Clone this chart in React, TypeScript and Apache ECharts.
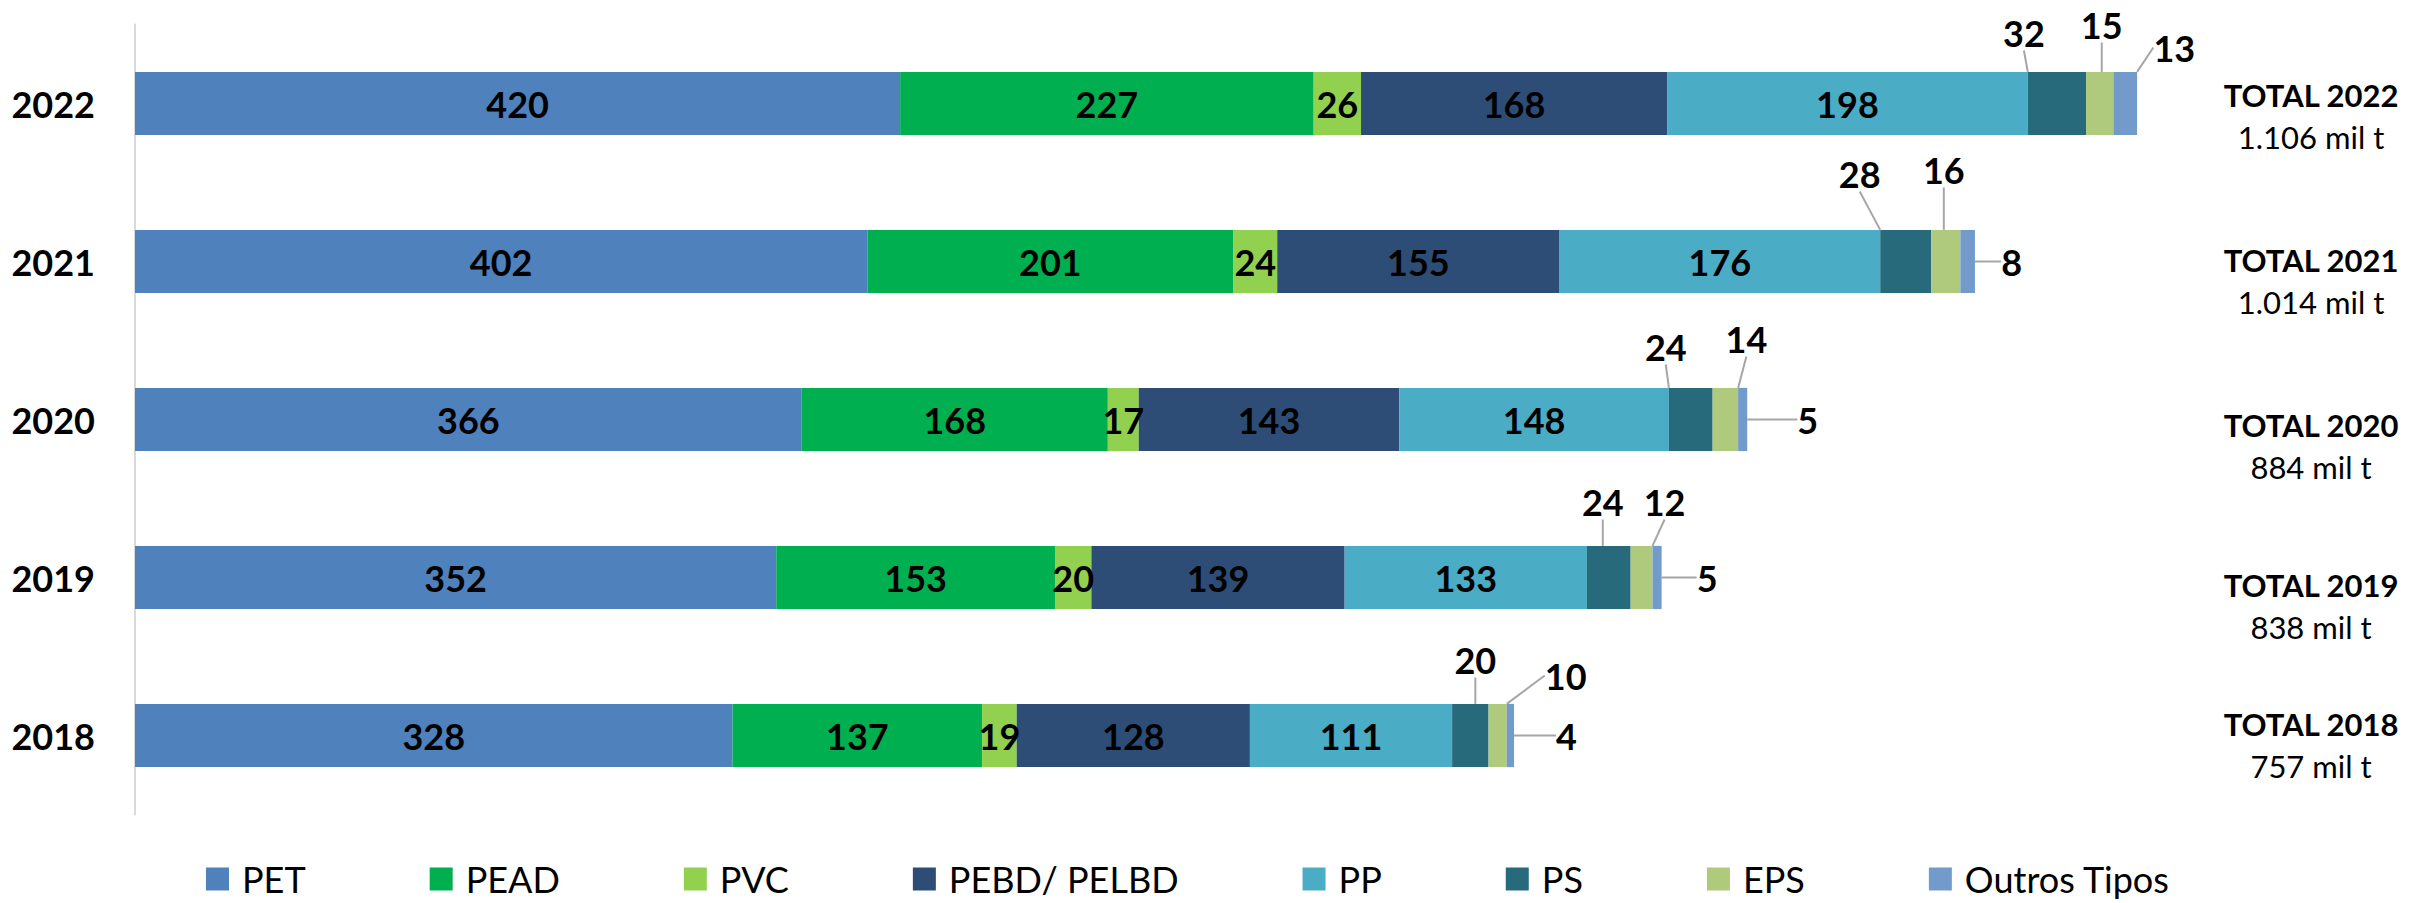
import React, { useEffect, useRef } from 'react';
import * as echarts from 'echarts';

// ---- data ----
const YEARS = ['2022', '2021', '2020', '2019', '2018'];
const PET = [420, 402, 366, 352, 328];
const PEAD = [227, 201, 168, 153, 137];
const PVC = [26, 24, 17, 20, 19];
const PEBD = [168, 155, 143, 139, 128];
const PP = [198, 176, 148, 133, 111];
const PS = [32, 28, 24, 24, 20];
const EPS = [15, 16, 14, 12, 10];
const OUTROS = [13, 8, 5, 5, 4];
const TOTALS = ['1.106', '1.014', '884', '838', '757'];
const SERIES_NAMES = ['PET', 'PEAD', 'PVC', 'PEBD/ PELBD', 'PP', 'PS', 'EPS', 'Outros Tipos'];

// ---- styles / layout ----
const COLORS = ['#4F81BD', '#00B050', '#92D050', '#2D4D77', '#4BACC6', '#276A7C', '#AFCA7C', '#729ACA'];
const FONT = 'Lato, "Open Sans", sans-serif';
// offsets of the callout labels (dx, dy) for PS, EPS, Outros, per row
const CALLOUT_OFFSETS: Record<number, number[][]> = {
  5: [[-33, -71], [-46, -88], [-25, -73], [-6, -76], [5, -76]],
  6: [[2, -79], [-2, -92], [21, -81], [23, -76], [68, -60]],
  7: [[49, -56], [44, 0], [65, 0], [50, 0], [56, 0]],
};
const TOTAL_PAD = [25, 39, 53, 57, 19];

export default function App() {
  const ref = useRef<HTMLDivElement>(null);
  useEffect(() => {
    if (!ref.current) return;
    const chart = echarts.init(ref.current, undefined, { renderer: 'svg' });
    const values = [PET, PEAD, PVC, PEBD, PP, PS, EPS, OUTROS];
    const series = values.map((arr, i) => {
      const off = CALLOUT_OFFSETS[i];
      const s: any = {
        name: SERIES_NAMES[i],
        type: 'bar',
        stack: 'total',
        data: arr,
        barCategoryGap: '60%',
        itemStyle: { color: COLORS[i] },
        label: {
          show: true,
          position: 'inside',
          color: '#000',
          fontWeight: 'bold',
          fontSize: 36,
          fontFamily: FONT,
          padding: off ? 5 : 0,
        },
      };
      if (off) {
        s.labelLine = { show: true, lineStyle: { color: '#A6A6A6', width: 2 } };
        s.labelLayout = (p: any) => ({ dx: off[p.dataIndex][0], dy: off[p.dataIndex][1] });
      }
      return s;
    });
    chart.setOption({
      animation: false,
      backgroundColor: '#fff',
      textStyle: { fontFamily: FONT },
      grid: { left: 135, right: 185, top: 24.5, bottom: 88.5, containLabel: false, outerBoundsMode: 'none' },
      legend: {
        data: SERIES_NAMES,
        left: 201,
        top: 855,
        icon: 'rect',
        itemWidth: 23,
        itemHeight: 23,
        itemGap: 124,
        textStyle: { fontSize: 36, lineHeight: 38, color: '#000', fontFamily: FONT, padding: [0, 0, 0, 8] },
      },
      xAxis: { type: 'value', min: 0, max: 1150, show: false },
      yAxis: [
        {
          type: 'category',
          inverse: true,
          data: YEARS,
          axisLine: { show: true, lineStyle: { color: '#D9D9D9', width: 2 } },
          axisTick: { show: false },
          axisLabel: { margin: 40, fontSize: 36, fontWeight: 'bold', color: '#000', fontFamily: FONT },
        },
        {
          type: 'category',
          inverse: true,
          position: 'right',
          data: YEARS.map((y, i) => ({
            value: y,
            textStyle: { padding: [TOTAL_PAD[i], 0, 0, 0], align: 'center', verticalAlign: 'middle' },
          })),
          axisLine: { show: false },
          axisTick: { show: false },
          axisLabel: {
            margin: 81,
            align: 'center',
            formatter: (v: string, idx: number) => `{a|TOTAL ${v}}\n{b|${TOTALS[idx]} mil t}`,
            rich: {
              a: { fontSize: 31, fontWeight: 'bold', lineHeight: 42, color: '#000', fontFamily: FONT, align: 'center' },
              b: { fontSize: 31, lineHeight: 42, color: '#000', fontFamily: FONT, align: 'center' },
            },
          },
        },
      ],
      series,
    });
    return () => chart.dispose();
  }, []);
  return <div ref={ref} style={{ position: 'absolute', left: 0, top: 0, width: 2415, height: 903 }} />;
}
